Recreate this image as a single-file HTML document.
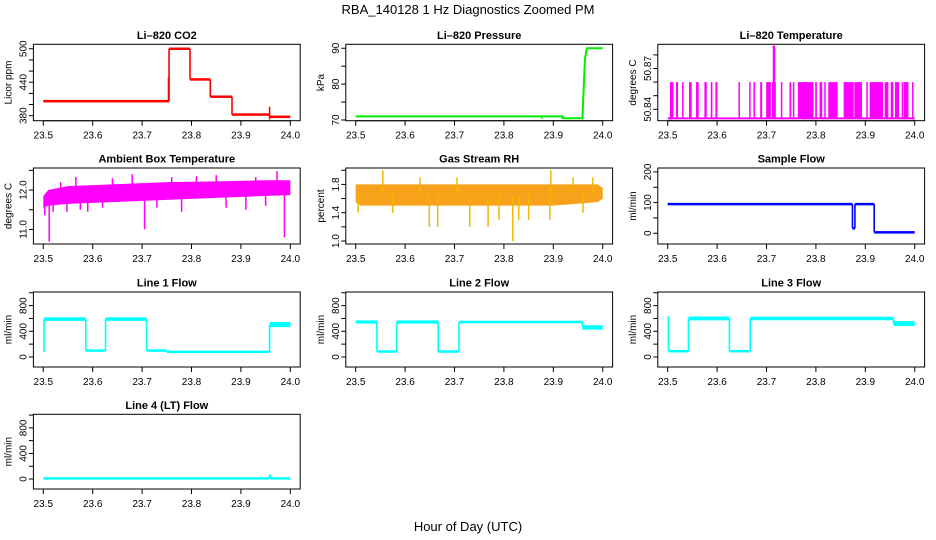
<!DOCTYPE html>
<html><head><meta charset="utf-8"><style>
html,body{margin:0;padding:0;background:#fff;}
svg{display:block;font-family:"Liberation Sans",Arial,sans-serif;}
</style></head><body>
<svg id="chart" width="936" height="540" viewBox="0 0 936 540" xmlns="http://www.w3.org/2000/svg">
<rect x="0" y="0" width="936" height="540" fill="#fff"/>
<text x="468" y="14" text-anchor="middle" font-size="13">RBA_140128  1 Hz Diagnostics Zoomed PM</text>
<text x="468" y="531" text-anchor="middle" font-size="13">Hour of Day (UTC)</text>
</svg>
<script>
// ---- data ----
const xTicks=[23.5,23.6,23.7,23.8,23.9,24.0];
const xTickLabels=["23.5","23.6","23.7","23.8","23.9","24.0"];

const co2StepT=[23.5,23.7545,23.797,23.838,23.882,23.958];
const co2StepV=[406,500,445,414,382,378];
const co2StepW=[1.5,1.5,1.5,1.5,1.5,1.5];
const co2SpikeT=[23.7534,23.958];
const co2SpikeLo=[406,373];
const co2SpikeHi=[449,396];

const presT=[23.5,23.919,23.919,23.959,23.960,23.964,23.968,24.0];
const presV=[71,71,70.5,70.5,74,87,90,90];
const presSpikeT=[23.877];
const presSpikeLo=[70.3];
const presSpikeHi=[71];

const tempLow=50.8333;
const tempHigh=50.86;
const tempBarStart=[23.5047,23.5169,23.5291,23.5432,23.5574,23.5743,23.5872,23.5966,23.6432,23.6649,23.6736,23.6872,23.6993,23.7108,23.7291,23.7466,23.7534,23.7635,23.7986,23.8074,23.8169,23.8250,23.8561,23.8777,23.9020,23.9088,23.9392,23.9514,23.9601,23.9736,23.9777,23.9946];
const tempBarEnd=[23.5115,23.5209,23.5318,23.5486,23.5628,23.5791,23.5905,23.6007,23.6453,23.6676,23.6750,23.6912,23.7088,23.7189,23.7318,23.7500,23.7561,23.7953,23.8020,23.8128,23.8189,23.8439,23.8764,23.8932,23.9034,23.9358,23.9466,23.9568,23.9682,23.9764,23.9872,23.9973];
const tempSpikeT=[23.7142,23.7152,23.7162];
const tempSpikeV=[50.8867,50.8867,50.8867];

const ambT=[23.5,23.51,23.55,23.65,23.75,23.85,23.95,24.0];
const ambLo=[11.55,11.6,11.65,11.7,11.75,11.8,11.85,11.87];
const ambHi=[11.85,12.0,12.1,12.15,12.2,12.22,12.25,12.25];
const ambSpikeT=[23.503,23.507,23.512,23.52,23.535,23.548,23.566,23.575,23.59,23.62,23.64,23.68,23.705,23.73,23.76,23.78,23.81,23.85,23.87,23.91,23.93,23.95,23.973,23.988];
const ambSpikeV=[11.36,11.7,10.69,11.45,12.2,11.45,12.33,11.5,11.45,11.55,12.3,12.4,11.0,11.55,12.33,11.45,12.35,12.38,11.55,11.5,12.33,11.6,12.48,10.8];

const rhT=[23.5,23.51,23.6,23.7,23.8,23.9,23.99,24.0];
const rhLo=[1.55,1.5,1.5,1.5,1.5,1.5,1.55,1.6];
const rhHi=[1.8,1.8,1.8,1.8,1.8,1.8,1.8,1.75];
const rhSpikeT=[23.505,23.555,23.575,23.63,23.649,23.666,23.705,23.731,23.768,23.79,23.818,23.83,23.85,23.893,23.895,23.94,23.96,23.98];
const rhSpikeV=[1.4,2.0,1.4,1.9,1.2,1.2,1.9,1.2,1.2,1.3,1.0,1.3,1.3,1.3,2.0,1.9,1.4,1.9];

const sfT=[23.5,23.874,23.879,23.918];
const sfV=[95,16,95,3];
const sfW=[4,0,4,3];

const l1T=[23.5,23.5015,23.586,23.626,23.709,23.75,23.958];
const l1V=[90,590,100,590,100,80,505];
const l1W=[0,28,8,28,8,8,40];

const l2T=[23.5,23.543,23.583,23.667,23.709,23.959];
const l2V=[545,85,545,85,545,460];
const l2W=[25,8,25,8,20,35];

const l3T=[23.5,23.5015,23.542,23.625,23.667,23.957];
const l3V=[620,90,600,90,600,520];
const l3W=[0,3,30,3,28,38];

const l4T=[23.5,23.958,23.960];
const l4V=[10,60,10];
const l4W=[5,0,5];

// ---- layout ----
const COLS=[{l:33.4,r:300.2},{l:345.8,r:612.6},{l:657.8,r:924.6}];
const ROWS=[{t:44.3,b:120.7},{t:168,b:244},{t:292,b:367},{t:414.3,b:489}];
const NS="http://www.w3.org/2000/svg";
const svg=document.getElementById('chart');
function el(tag,attrs,parent){const e=document.createElementNS(NS,tag);for(const k in attrs)e.setAttribute(k,attrs[k]);(parent||svg).appendChild(e);return e;}

function makePanel(name,title,ytitle,col,row,ylo,yhi,yticks,ylabels){
  const c=COLS[col],r=ROWS[row];
  const g=el('g',{});
  
  
  const X=t=>c.l+(t-23.48)/0.54*(c.r-c.l);
  const Y=v=>r.b-(v-ylo)/(yhi-ylo)*(r.b-r.t);
  const p={g,X,Y,c,r};
  const cp=el('clipPath',{id:'clip-'+name},g);
  el('rect',{x:c.l,y:r.t,width:c.r-c.l,height:r.b-r.t},cp);
  p.plot=el('g',{'clip-path':'url(#clip-'+name+')'},g);
  
  
  const box=el('rect',{x:c.l,y:r.t,width:c.r-c.l,height:r.b-r.t,fill:'none',stroke:'#000','stroke-width':1},g);
  
  
  const tt=el('text',{x:(c.l+c.r)/2,y:r.t-5.5,'text-anchor':'middle','font-size':11,'font-weight':'bold'},g);
  tt.textContent=title;
  
  
  el('line',{x1:X(xTicks[0]),x2:X(xTicks[xTicks.length-1]),y1:r.b,y2:r.b,stroke:'#000'},g);
  xTicks.forEach((t,i)=>{
    el('line',{x1:X(t),x2:X(t),y1:r.b,y2:r.b+5,stroke:'#000'},g);
    const tx=el('text',{x:X(t),y:r.b+18,'text-anchor':'middle','font-size':10},g);
    tx.textContent=xTickLabels[i];
    
    
  });
  yticks.forEach((v,i)=>{
    el('line',{x1:c.l-4.5,x2:c.l,y1:Y(v),y2:Y(v),stroke:'#000'},g);
    if(ylabels[i]!==''){
      const tx=el('text',{x:0,y:0,'text-anchor':'middle','font-size':10,transform:`translate(${c.l-7},${Y(v)}) rotate(-90)`},g);
      tx.textContent=ylabels[i];
      
      
    }
  });
  const yt=el('text',{x:0,y:0,'text-anchor':'middle','font-size':10,transform:`translate(${c.l-22},${(r.t+r.b)/2}) rotate(-90)`},g);
  yt.textContent=ytitle;
  
  
  return p;
}

function stepBand(p,T,V,W,color,minH){
  for(let i=0;i<T.length;i++){
    const x0=p.X(T[i]),x1=p.X(i+1<T.length?T[i+1]:24.0);
    let y0=p.Y(V[i]+W[i]),y1=p.Y(V[i]-W[i]);
    if(y1-y0<minH){const m=(y0+y1)/2;y0=m-minH/2;y1=m+minH/2;}
    const rc=el('rect',{x:x0,y:y0,width:Math.max(x1-x0,1),height:y1-y0,fill:color},p.plot);
    
    
    if(i+1<T.length){
      el('line',{x1:x1,x2:x1,y1:p.Y(V[i]),y2:p.Y(V[i+1]),stroke:color,'stroke-width':1.6},p.plot);
    }
  }
}
function spikes(p,T,LO,HI,color){
  T.forEach((t,i)=>{
    const ln=el('line',{x1:p.X(t),x2:p.X(t),y1:p.Y(LO[i]),y2:p.Y(HI[i]),stroke:color,'stroke-width':1.5},p.plot);
    
    
  });
}
function band(p,T,LO,HI,color){
  let d='';
  T.forEach((t,i)=>{d+=(i?'L':'M')+p.X(t)+','+p.Y(HI[i]);});
  for(let i=T.length-1;i>=0;i--)d+='L'+p.X(T[i])+','+p.Y(LO[i]);
  const b=el('path',{d:d+'Z',fill:color},p.plot);
  
  
}
function interp(T,V,t){for(let i=0;i<T.length-1;i++){if(t<=T[i+1])return V[i]+(V[i+1]-V[i])*(t-T[i])/(T[i+1]-T[i]);}return V[V.length-1];}

let p=makePanel('co2','Li\u2013820 CO2','Licor ppm',0,0,371,508,[380,400,420,440,460,480,500],['380','','','440','','','500']);
stepBand(p,co2StepT,co2StepV,co2StepW,'#ff0000',2.5);
spikes(p,co2SpikeT,co2SpikeLo,co2SpikeHi,'#ff0000');

p=makePanel('pressure','Li\u2013820 Pressure','kPa',1,0,69.8,91.1,[70,75,80,85,90],['70','','80','','90']);
{let d='';presT.forEach((t,i)=>{d+=(i?'L':'M')+p.X(t)+','+p.Y(presV[i]);});
const pl=el('path',{d:d,fill:'none',stroke:'#00ee00','stroke-width':2},p.plot);

}
spikes(p,presSpikeT,presSpikeLo,presSpikeHi,'#00ee00');

p=makePanel('li820-temp','Li\u2013820 Temperature','degrees C',2,0,50.8316,50.8878,[50.84,50.85,50.86,50.87,50.88],['50.84','','','50.87','']);
{const bl=el('line',{x1:p.X(23.5),x2:p.X(24.0),y1:p.Y(tempLow),y2:p.Y(tempLow),stroke:'#ff00ff','stroke-width':2},p.plot);

}
tempBarStart.forEach((s,i)=>{
  const x0=p.X(s),x1=p.X(tempBarEnd[i]);
  const r=el('rect',{x:x0,y:p.Y(tempHigh),width:Math.max(x1-x0,1.5),height:p.Y(tempLow)-p.Y(tempHigh),fill:'#ff00ff'},p.plot);
  
  
});
spikes(p,tempSpikeT,tempSpikeT.map(()=>tempLow),tempSpikeV,'#ff00ff');

p=makePanel('ambient-temp','Ambient Box Temperature','degrees C',0,1,10.63,12.56,[11.0,11.5,12.0,12.5],['11.0','','12.0','']);
band(p,ambT,ambLo,ambHi,'#ff00ff');
spikes(p,ambSpikeT,ambSpikeT.map(t=>(interp(ambT,ambLo,t)+interp(ambT,ambHi,t))/2),ambSpikeV,'#ff00ff');

p=makePanel('rh','Gas Stream RH','percent',1,1,0.958,2.032,[1.0,1.2,1.4,1.6,1.8,2.0],['1.0','','1.4','','1.8','']);
band(p,rhT,rhLo,rhHi,'#f7a21a');
spikes(p,rhSpikeT,rhSpikeT.map(t=>(interp(rhT,rhLo,t)+interp(rhT,rhHi,t))/2),rhSpikeV,'#f0b800');

p=makePanel('sample-flow','Sample Flow','ml/min',2,1,-35,212.7,[0,50,100,150,200],['0','','100','','200']);
stepBand(p,sfT,sfV,sfW,'#0000ff',2.5);

const flowTicks=[0,200,400,600,800,1000],flowLabels=['0','','400','','800',''];
p=makePanel('line1-flow','Line 1 Flow','ml/min',0,2,-156,1012,flowTicks,flowLabels);
stepBand(p,l1T,l1V,l1W,'#00ffff',2.5);
p=makePanel('line2-flow','Line 2 Flow','ml/min',1,2,-156,1012,flowTicks,flowLabels);
stepBand(p,l2T,l2V,l2W,'#00ffff',2.5);
p=makePanel('line3-flow','Line 3 Flow','ml/min',2,2,-156,1012,flowTicks,flowLabels);
stepBand(p,l3T,l3V,l3W,'#00ffff',2.5);
p=makePanel('line4-flow','Line 4 (LT) Flow','ml/min',0,3,-156,1012,flowTicks,flowLabels);
stepBand(p,l4T,l4V,l4W,'#00ffff',2.5);
</script>
</body></html>
